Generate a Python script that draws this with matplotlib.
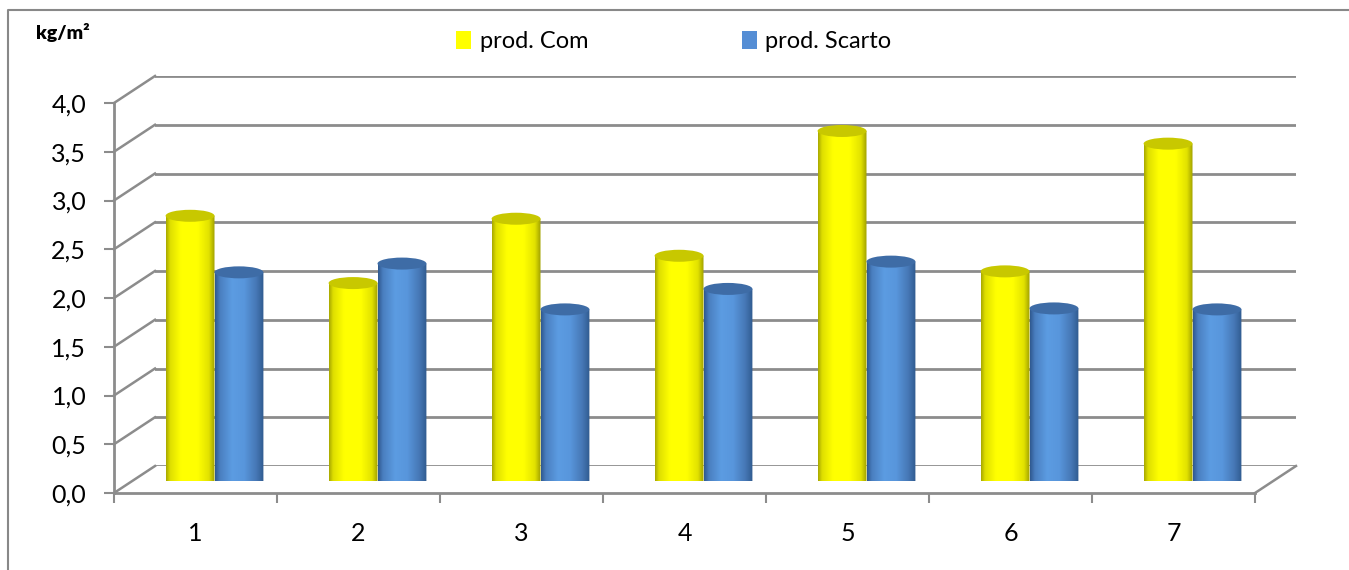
import numpy as np
import matplotlib.pyplot as plt
from matplotlib.patches import Polygon, Ellipse, Patch
from matplotlib.lines import Line2D
from matplotlib.colors import LinearSegmentedColormap

plt.rcParams['font.family'] = ['Lato', 'DejaVu Sans']

# dati (kg/m2)
categorie = ['1', '2', '3', '4', '5', '6', '7']
prod_com = [2.72, 2.03, 2.69, 2.31, 3.59, 2.15, 3.46]
prod_scarto = [2.14, 2.23, 1.76, 1.97, 2.25, 1.77, 1.76]
serie = ['prod. Com', 'prod. Scarto']
y_ticks = np.arange(0, 4.01, 0.5)

W, H = 1349, 570
PW, PH = 1141, 390          # larghezza / altezza del piano in pixel
GRIGIO = '#8c8c8c'

fig = plt.figure(figsize=(W / 100, H / 100), dpi=100)


def box(x0, y0):
    # x0, y0 = angolo in basso a sinistra in pixel (y dall'alto)
    return [x0 / W, (H - y0) / H, PW / W, PH / H]


ax_back = fig.add_axes(box(155, 466))
ax_bar = fig.add_axes(box(133, 481))
ax_front = fig.add_axes(box(114, 493))
for ax in (ax_back, ax_bar, ax_front):
    ax.set_xlim(-0.5, len(categorie) - 0.5)
    ax.set_ylim(0, 4)
    ax.patch.set_visible(False)
ax_back.axis('off')
ax_bar.axis('off')

# parete di fondo
for v in y_ticks:
    ax_back.axhline(v, color=GRIGIO, lw=2, zorder=1)

# profondita' in unita' dati del piano frontale
dx = 41 * (len(categorie)) / PW
dy = 27 * 4 / PH
for v in y_ticks:
    ax_front.plot([-0.5, -0.5 + dx], [v, v + dy], color=GRIGIO, lw=1.8, clip_on=False)
ax_front.plot([6.5, 6.5 + dx], [0, dy], color=GRIGIO, lw=1.8, clip_on=False)

# assi frontali
for s in ['top', 'right']:
    ax_front.spines[s].set_visible(False)
for s in ['left', 'bottom']:
    ax_front.spines[s].set_color(GRIGIO)
    ax_front.spines[s].set_linewidth(2)
ax_front.set_yticks(y_ticks)
ax_front.set_yticklabels([f'{v:.1f}'.replace('.', ',') for v in y_ticks])
ax_front.tick_params(axis='y', length=7, width=1.5, color=GRIGIO, pad=13, labelsize=18)
ax_front.set_xticks(np.arange(-0.5, len(categorie), 1))
ax_front.set_xticklabels([])
ax_front.tick_params(axis='x', which='major', length=7, width=1.5, color=GRIGIO)
ax_front.set_xticks(range(len(categorie)), minor=True)
ax_front.set_xticklabels(categorie, minor=True)
ax_front.tick_params(axis='x', which='minor', length=0, pad=21, labelsize=18)

# cilindri
giallo = LinearSegmentedColormap.from_list('g', [
    (0, '#a8a800'), (0.08, '#dede00'), (0.3, '#ffff00'),
    (0.65, '#ffff00'), (0.88, '#e2e200'), (1, '#a0a000')])
blu = LinearSegmentedColormap.from_list('b', [
    (0, '#30598f'), (0.1, '#4a7fc0'), (0.35, '#5c9ce2'),
    (0.6, '#5896dc'), (0.85, '#4677b5'), (1, '#2f5a8f')])
e = 6 * 4 / PH
w = 0.30


def cilindro(ax, xc, v, cmap, top):
    x0, x1 = xc - w / 2, xc + w / 2
    t = np.linspace(0, np.pi, 40)
    arco = np.column_stack([xc - w / 2 * np.cos(t), -e * np.sin(t)])
    pts = np.vstack([[x0, v], arco, [x1, v]])
    poly = Polygon(pts, closed=True, facecolor='none', edgecolor='none')
    ax.add_patch(poly)
    grad = np.linspace(0, 1, 128)[None, :]
    im = ax.imshow(grad, cmap=cmap, extent=(x0, x1, -e, v), aspect='auto',
                   interpolation='bilinear', zorder=2)
    im.set_clip_path(poly)
    ax.add_patch(Ellipse((xc, v), w, 2 * e, facecolor=top, edgecolor='none', zorder=3))


for i, (a, b) in enumerate(zip(prod_com, prod_scarto)):
    cilindro(ax_bar, i - w / 2, a, giallo, '#c8c800')
    cilindro(ax_bar, i + w / 2, b, blu, '#3e6ca6')
ax_bar.set_xlim(-0.5, len(categorie) - 0.5)
ax_bar.set_ylim(0, 4)

# cornice
fig.add_artist(Line2D([8 / W, 8 / W, 1], [0, 1 - 10 / H, 1 - 10 / H],
                      transform=fig.transFigure, color='#888888', lw=1.5))

fig.text(36 / W, 1 - 33 / H, 'kg/m²', fontsize=14, fontweight='heavy', va='center')

fig.legend(handles=[Patch(facecolor='#ffff00'), Patch(facecolor='#558ed5')],
           labels=serie, loc='upper left', bbox_to_anchor=(456 / W, 1 - 31 / H),
           ncol=2, frameon=False, fontsize=17, handlelength=0.65, handleheight=0.8,
           handletextpad=0.35, columnspacing=6.5, borderpad=0, borderaxespad=0)

fig.savefig('out.png', dpi=100)
